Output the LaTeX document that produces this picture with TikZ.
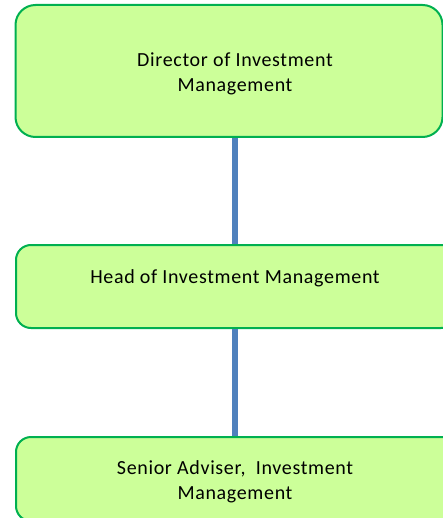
\documentclass[tikz,border=0pt]{standalone}
\usepackage{fontspec}
\setmainfont{Carlito}[LetterSpace=3.3]
\definecolor{boxfill}{HTML}{CCFF99}
\definecolor{boxdraw}{HTML}{00B050}
\definecolor{linkblue}{HTML}{4F81BD}
\begin{document}
\begin{tikzpicture}[x=1pt,y=-1pt,
  box/.style={draw=boxdraw, fill=boxfill, line width=2pt, rectangle, inner sep=0pt},
  label/.style={align=center, font=\fontsize{20}{25}\selectfont, inner sep=0pt},
  link/.style={draw=linkblue, line width=6pt}]
\useasboundingbox (0,0) rectangle (443,518);
\clip (0,0) rectangle (443,518);
\node[box, rounded corners=20pt, minimum width=427pt, minimum height=132pt] (d) at (229,71) {};
\node[box, rounded corners=15pt, minimum width=440pt, minimum height=83pt] (h) at (236,286.5) {};
\node[box, rounded corners=15pt, minimum width=440pt, minimum height=84pt] (s) at (236,479) {};
\node[label] (dt) at (235,74) {Director of Investment\\Management};
\node[label] (ht) at (235,278.5) {Head of Investment Management};
\node[label] (st) at (235,481.5) {Senior Adviser,\ \ Investment\\Management};
\draw[link] (d.south -| dt.center) -- (h.north -| dt.center);
\draw[link] (h.south -| dt.center) -- (s.north -| dt.center);
\end{tikzpicture}
\end{document}
